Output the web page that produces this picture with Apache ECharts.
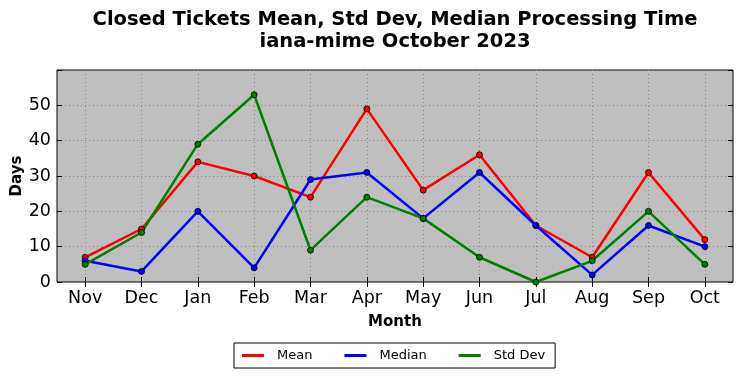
<!DOCTYPE html>
<html><head><meta charset="utf-8">
<script src="https://cdn.jsdelivr.net/npm/echarts@6/dist/echarts.min.js"></script>
<style>html,body{margin:0;padding:0;background:#fff}#c{width:742px;height:378px}</style>
</head><body><div id="c"></div>
<script>
const months = ['Nov','Dec','Jan','Feb','Mar','Apr','May','Jun','Jul','Aug','Sep','Oct'];
const meanVals = [7, 15, 34, 30, 24, 49, 26, 36, 16, 7, 31, 12];
const medianVals = [6, 3, 20, 4, 29, 31, 18, 31, 16, 2, 16, 10];
const stdVals = [5, 14, 39, 53, 9, 24, 18, 7, 0, 6, 20, 5];
const yTicks = [0, 10, 20, 30, 40, 50];

const chart = echarts.init(document.getElementById('c'), null, {renderer: 'canvas'});
const font = 'DejaVu Sans';
function ser(name, color, data) {
  return {
    name, type: 'line', data, xAxisIndex: 0, yAxisIndex: 0,
    symbol: 'circle', symbolSize: 6,
    lineStyle: {color, width: 2.5},
    itemStyle: {color, borderColor: '#000', borderWidth: 0.8},
    z: 3
  };
}
chart.setOption({
  animation: false,
  backgroundColor: '#fff',
  textStyle: {fontFamily: font},
  title: {
    text: 'Closed Tickets Mean, Std Dev, Median Processing Time\niana-mime October 2023',
    left: 390, top: 4, textAlign: 'center',
    textStyle: {fontFamily: font, fontWeight: 'bold', fontSize: 19.5, color: '#000', lineHeight: 22}
  },
  grid: {left: 57, right: 9, top: 70, bottom: 96, outerBoundsMode: 'none', containLabel: false,
    show: true, backgroundColor: '#bfbfbf', borderColor: '#000', borderWidth: 1},
  legend: {
    data: ['Mean','Median','Std Dev'],
    left: 234, top: 343, width: 321,
    padding: [6, 10, 6, 8],
    itemGap: 32,
    icon: 'rect', itemWidth: 22, itemHeight: 3,
    itemStyle: {borderWidth: 0},
    borderColor: '#000', borderWidth: 1, borderRadius: 0,
    textStyle: {fontFamily: font, fontSize: 13, color: '#000', padding: [0, 0, 0, 8]}
  },
  xAxis: [{
    type: 'category', data: months, boundaryGap: true,
    name: 'Month', nameLocation: 'middle', nameGap: 33, nameMoveOverlap: false,
    nameTextStyle: {fontFamily: font, fontWeight: 'bold', fontSize: 15, color: '#000'},
    axisLine: {show: false},
    axisTick: {show: true, inside: true, alignWithLabel: true, length: 5, lineStyle: {color: '#000'}},
    axisLabel: {fontFamily: font, fontSize: 17.5, color: '#000', margin: 7},
    splitLine: {show: true, alignWithLabel: true, interval: 0, lineStyle: {color: '#808080', type: [1, 3], width: 1}}
  }, {
    type: 'category', data: months, boundaryGap: true, position: 'top',
    axisLine: {show: false},
    axisTick: {show: true, inside: true, alignWithLabel: true, length: 5, lineStyle: {color: '#000'}},
    axisLabel: {show: false}, splitLine: {show: false}
  }],
  yAxis: [{
    type: 'value', min: 0, max: 60, interval: 10,
    name: 'Days', nameLocation: 'middle', nameGap: 32, nameMoveOverlap: false,
    nameTextStyle: {fontFamily: font, fontWeight: 'bold', fontSize: 15, color: '#000'},
    axisLine: {show: false},
    axisTick: {show: true, inside: true, length: 5, lineStyle: {color: '#000'}},
    axisLabel: {fontFamily: font, fontSize: 17.5, color: '#000', margin: 6,
      formatter: v => yTicks.includes(v) ? String(v) : ''},
    splitLine: {show: true, lineStyle: {color: '#808080', type: [1, 3], width: 1}}
  }, {
    type: 'value', min: 0, max: 60, interval: 10, position: 'right',
    axisLine: {show: false},
    axisTick: {show: true, inside: true, length: 5, lineStyle: {color: '#000'}},
    axisLabel: {show: false}, splitLine: {show: false}
  }],
  series: [
    ser('Mean', '#ff0000', meanVals),
    ser('Median', '#0000ff', medianVals),
    ser('Std Dev', '#008000', stdVals)
  ]
});
</script></body></html>
